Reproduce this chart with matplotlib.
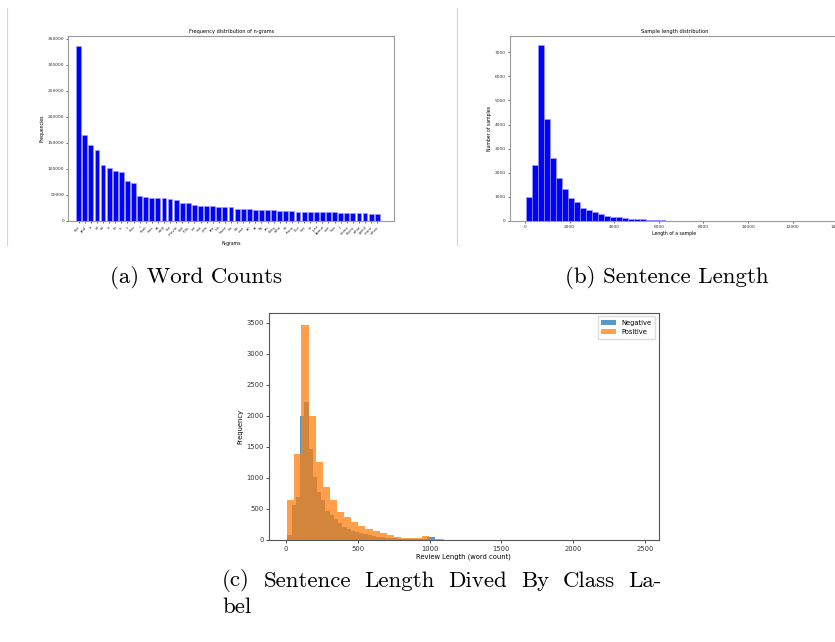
import numpy as np
import matplotlib
matplotlib.use("Agg")
import matplotlib.pyplot as plt
from matplotlib.lines import Line2D

# (a) word counts
ngram_words = ["the", "and", "a", "of", "to", "is", "br", "in", "it", "this",
               "i", "that", "was", "as", "with", "for", "movie", "but", "film", "on",
               "not", "you", "are", "his", "have", "he", "be", "one", "all", "at",
               "by", "an", "they", "who", "so", "from", "like", "her", "or", "just",
               "about", "out", "has", "if", "some", "there", "what", "good", "more", "when"]
ngram_counts = [336000, 164500, 145500, 135500, 107500, 101500, 96500, 94000, 76000, 73000,
                48000, 46500, 44000, 43500, 43500, 42500, 39500, 34000, 34000, 30000,
                29500, 29000, 28500, 27500, 26500, 26000, 23500, 23000, 22500, 22000,
                21500, 21000, 20500, 20000, 20000, 18500, 18000, 17500, 17500, 17000,
                16500, 16500, 16500, 16000, 16000, 15500, 15000, 14500, 14000, 14000]

# (b) sample length histogram (50 bins)
len_bin_start = 45
len_bin_width = 270
len_counts = [985, 2330, 7295, 4244, 2594, 1775, 1318, 957, 777, 541,
              472, 360, 305, 194, 166, 150, 110, 97, 83, 69,
              55, 42, 28, 12, 8, 5, 4, 3, 2, 2,
              1, 1, 1, 0, 0, 1, 0, 0, 0, 0,
              0, 0, 0, 0, 0, 0, 0, 0, 0, 1]

# (c) review length by class (50 bins each)
neg_bin_start = 10
neg_bin_width = 29.4
neg_counts = [80, 560, 690, 2000, 2230, 1470, 1010, 780, 650, 470,
              400, 340, 270, 215, 180, 150, 125, 105, 90, 75,
              62, 52, 44, 37, 31, 26, 22, 18, 16, 14,
              12, 10, 9, 45, 42, 5, 3, 2, 2, 1,
              1, 1, 0, 0, 1, 0, 0, 0, 0, 1]
pos_bin_start = 9
pos_bin_width = 49.5
pos_counts = [652, 1390, 3474, 2000, 1256, 855, 652, 454, 364, 289,
              228, 176, 150, 110, 83, 56, 40, 34, 37, 64,
              21, 10, 6, 4, 3, 3, 2, 2, 1, 1,
              1, 1, 0, 1, 0, 0, 0, 1, 0, 0,
              0, 0, 0, 0, 0, 0, 0, 0, 0, 1]

caption_c_line1 = "(c) Sentence Length Dived By Class La-"
caption_c_line2 = "bel"

W, H = 835, 642
SPINE = "#9a9a9a"
CAP = dict(family="cmr10", fontsize=16.5, color="black")


def fig_rect(left, top, right, bottom):
    # pixel box -> figure fraction [l, b, w, h]
    return [left / W, 1 - bottom / H, (right - left) / W, (bottom - top) / H]


def style_small(ax, fs):
    for s in ax.spines.values():
        s.set_color(SPINE)
        s.set_linewidth(0.8)
    ax.tick_params(labelsize=fs, length=1.5, width=0.5, pad=1.5, colors="#333333")


def hist_from_counts(ax, counts, start, width, **kw):
    edges = start + width * np.arange(len(counts) + 1)
    ax.hist(edges[:-1], bins=edges, weights=counts, **kw)


def justified_line(fig, text, x0, x1, y):
    # latex-style justified caption line: words spread from x0 to x1 (pixels)
    words = text.split()
    renderer = fig.canvas.get_renderer()
    widths = []
    for w in words:
        t = fig.text(0, 0, w, **CAP)
        widths.append(t.get_window_extent(renderer).width)
        t.remove()
    gap = (x1 - x0 - sum(widths)) / (len(words) - 1)
    x = x0
    for w, wd in zip(words, widths):
        fig.text(x / W, 1 - y / H, w, ha="left", va="center", **CAP)
        x += wd + gap


def main():
    fig = plt.figure(figsize=(W / 100, H / 100), dpi=100)

    # (a)
    ax = fig.add_axes(fig_rect(68.3, 36, 394.3, 221))
    x = np.arange(len(ngram_words))
    ax.bar(x, ngram_counts, width=0.8, color="blue", edgecolor="#a0a0ff", linewidth=0.4)
    ax.set_xticks(x)
    ax.set_xticklabels(ngram_words, rotation=45, ha="right", rotation_mode="anchor")
    ax.set_xlim(-1.7, 51.8)
    ax.set_ylim(0, 355500)
    style_small(ax, 3.2)
    ax.tick_params(axis="x", labelsize=2.8)
    ax.set_title("Frequency distribution of n-grams", fontsize=3.6, pad=2)
    ax.set_xlabel("N-grams", fontsize=3.3, labelpad=3)
    ax.set_ylabel("Frequencies", fontsize=3.3, labelpad=2)

    # (b)
    ax = fig.add_axes(fig_rect(510, 36, 839, 221))
    hist_from_counts(ax, len_counts, len_bin_start, len_bin_width,
                     color="blue", edgecolor="#a0a0ff", linewidth=0.4)
    ax.set_xlim(-672, 14075)
    ax.set_ylim(0, 7670)
    style_small(ax, 3.2)
    ax.set_title("Sample length distribution", fontsize=3.6, pad=2)
    ax.set_xlabel("Length of a sample", fontsize=3.3, labelpad=1)
    ax.set_ylabel("Number of samples", fontsize=3.3, labelpad=2)

    # (c)
    ax = fig.add_axes(fig_rect(269, 313, 658.7, 540))
    hist_from_counts(ax, neg_counts, neg_bin_start, neg_bin_width,
                     color="#1f77b4", alpha=0.75, label="Negative")
    hist_from_counts(ax, pos_counts, pos_bin_start, pos_bin_width,
                     color="#ff7f0e", alpha=0.75, label="Positive")
    ax.set_xlim(-118, 2595)
    ax.set_ylim(0, 3660)
    for s in ax.spines.values():
        s.set_color("#555555")
        s.set_linewidth(0.8)
    ax.tick_params(labelsize=4.9, length=2.5, width=0.6, pad=1.5, colors="#333333")
    ax.set_xlabel("Review Length (word count)", fontsize=4.9, labelpad=1.5)
    ax.set_ylabel("Frequency", fontsize=4.9, labelpad=2)
    ax.legend(loc="upper right", fontsize=4.9, handlelength=2.2, borderpad=0.5,
              framealpha=1, edgecolor="#dddddd", fancybox=False)

    # separators between the two top images
    fig.add_artist(Line2D([7 / W, 7 / W], [1 - 8 / H, 1 - 245 / H], color="#d5d5d5", lw=0.8))
    fig.add_artist(Line2D([457 / W, 457 / W], [1 - 8 / H, 1 - 245 / H], color="#d5d5d5", lw=0.8))

    # captions
    fig.text(196 / W, 1 - 278 / H, "(a) Word Counts", ha="center", va="center", **CAP)
    fig.text(667 / W, 1 - 278 / H, "(b) Sentence Length", ha="center", va="center", **CAP)
    justified_line(fig, caption_c_line1, 222, 662, 581)
    fig.text(222 / W, 1 - 607 / H, caption_c_line2, ha="left", va="center", **CAP)

    fig.savefig("out.png", dpi=100)


if __name__ == "__main__":
    main()
